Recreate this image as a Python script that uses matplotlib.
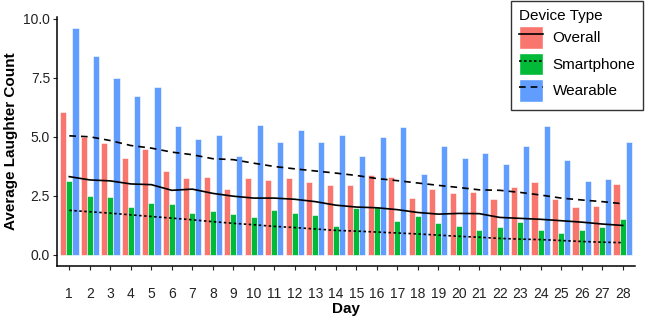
import numpy as np
import matplotlib
matplotlib.use('Agg')
import matplotlib.pyplot as plt
from matplotlib.patches import Patch
from matplotlib.lines import Line2D

plt.rcParams['font.family'] = ['Liberation Sans', 'DejaVu Sans']

days = list(range(1, 29))

overall = [6.03, 5.01, 4.72, 4.10, 4.48, 3.57, 3.25, 3.29, 2.78, 3.25,
           3.18, 3.25, 3.08, 2.94, 2.95, 3.40, 3.31, 2.42, 2.78, 2.61,
           2.67, 2.37, 2.87, 3.08, 2.36, 2.03, 2.08, 2.99]
smartphone = [3.11, 2.50, 2.44, 2.02, 2.18, 2.13, 1.78, 1.86, 1.74, 1.60,
              1.91, 1.75, 1.68, 1.23, 1.98, 2.02, 1.44, 1.62, 1.33, 1.23,
              1.03, 1.17, 1.37, 1.03, 0.90, 1.06, 1.16, 1.50]
wearable = [9.60, 8.43, 7.50, 6.71, 7.13, 5.45, 4.90, 5.08, 4.19, 5.51,
            4.76, 5.27, 4.80, 5.08, 4.17, 5.01, 5.41, 3.42, 4.62, 4.12,
            4.32, 3.86, 4.59, 5.44, 4.00, 3.14, 3.22, 4.80]

# smoothed trend lines
trend_overall = [3.31, 3.17, 3.13, 3.00, 2.97, 2.73, 2.78, 2.60, 2.48, 2.40,
                 2.40, 2.35, 2.25, 2.10, 2.02, 1.99, 1.91, 1.79, 1.72, 1.75,
                 1.74, 1.58, 1.54, 1.50, 1.44, 1.38, 1.30, 1.24]
trend_smartphone = [1.88, 1.82, 1.76, 1.69, 1.62, 1.55, 1.48, 1.40, 1.33, 1.27,
                    1.20, 1.15, 1.09, 1.03, 1.00, 0.96, 0.92, 0.88, 0.83, 0.78,
                    0.74, 0.69, 0.66, 0.64, 0.60, 0.56, 0.53, 0.51]
trend_wearable = [5.04, 5.00, 4.84, 4.63, 4.52, 4.35, 4.24, 4.07, 4.03, 3.88,
                  3.74, 3.64, 3.55, 3.46, 3.36, 3.23, 3.14, 3.04, 2.94, 2.85,
                  2.75, 2.73, 2.64, 2.53, 2.40, 2.32, 2.25, 2.16]

labels = ['Overall', 'Smartphone', 'Wearable']
colors = ['#F8766D', '#00BA38', '#619CFF']
styles = ['-', (0, (1.5, 1.5)), (0, (4, 3))]

fig = plt.figure(figsize=(6.45, 3.19), dpi=100)
ax = fig.add_axes([57 / 645, 1 - 266 / 319, (635 - 57) / 645, (266 - 17) / 319])

x = np.array(days)
w = 0.3
for i, (vals, c) in enumerate(zip([overall, smartphone, wearable], colors)):
    ax.bar(x + (i - 1) * w, vals, width=w, color=c, edgecolor='white', linewidth=0.4)

for tr, ls in zip([trend_overall, trend_smartphone, trend_wearable], styles):
    ax.plot(x, tr, color='black', linestyle=ls, linewidth=1.2)

ax.set_xlim(0.4, 28.6)
ax.set_ylim(-0.48, 10.08)
ax.set_xticks(days)
ax.set_yticks([0, 2.5, 5, 7.5, 10])
ax.set_yticklabels(['0.0', '2.5', '5.0', '7.5', '10.0'])
ax.tick_params(axis='x', labelsize=10, length=3, pad=12, colors='#222222', labelcolor='#222222')
ax.tick_params(axis='y', labelsize=10, length=3, pad=2, colors='#222222', labelcolor='#222222')
for s in ['top', 'right']:
    ax.spines[s].set_visible(False)
for s in ['left', 'bottom']:
    ax.spines[s].set_linewidth(1.1)

ax.set_xlabel('Day', fontsize=11, fontweight='bold', labelpad=1)
ax.set_ylabel('Average Laughter Count', fontsize=11, fontweight='bold', labelpad=4)

handles = []
for c, ls in zip(colors, styles):
    handles.append((Patch(facecolor=c, edgecolor='white'),
                    Line2D([0], [0], color='black', linestyle=ls, linewidth=1.2)))
leg = fig.legend(handles, labels, title='Device Type', loc='upper right',
                 bbox_to_anchor=(643 / 645, 1 - 1 / 319), bbox_transform=fig.transFigure,
                 borderaxespad=0, fontsize=11, title_fontsize=11, frameon=True,
                 fancybox=False, edgecolor='black', handlelength=1.6, handleheight=1.93,
                 labelspacing=0.23, handletextpad=0.6, borderpad=0.5, alignment='left')
leg.get_frame().set_linewidth(1.0)

fig.savefig('out.png', dpi=100)
